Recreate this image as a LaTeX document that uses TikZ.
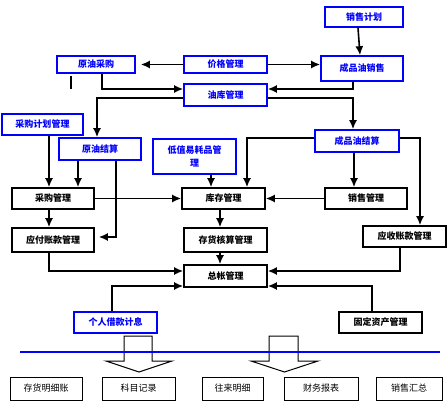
\documentclass[tikz,border=0pt]{standalone}
\usepackage{fontspec}
\newfontfamily\cjk{Noto Sans CJK SC}
\usetikzlibrary{arrows.meta}

\begin{document}
\begin{tikzpicture}[x=1pt, y=-1pt,
    box/.style={draw, rectangle, line width=1.6pt, inner sep=0pt,
      font=\cjk\bfseries\fontsize{9}{12.5}\selectfont},
    bluebox/.style={box, draw=blue, text=blue},
    blackbox/.style={box, draw=black},
    leafbox/.style={draw, rectangle, line width=1pt, inner sep=0pt,
      minimum height=23pt, font=\cjk\fontsize{9}{12}\selectfont},
    link/.style={line width=1.6pt, -{Latex[length=9pt,width=8pt]}}]
      \useasboundingbox (0,0) rectangle (447,401);

      % top row
      \node[bluebox, minimum width=78pt, minimum height=20pt] (plan) at (364,17) {销售计划};
      \node[bluebox, minimum width=78pt, minimum height=17pt] (crude) at (96,64.5) {原油采购};
      \node[bluebox, minimum width=83pt, minimum height=17pt] (price) at (225.5,64.5) {价格管理};
      \node[bluebox, minimum width=82pt, minimum height=25pt] (sale) at (362,68.5) {成品油销售};
      \node[bluebox, minimum width=83pt, minimum height=22pt] (depot) at (225.5,95) {油库管理};

      % settlement row
      \node[bluebox, minimum width=81pt, minimum height=21pt] (pplan) at (42.5,124.5) {采购计划管理};
      \node[bluebox, minimum width=82pt, minimum height=22pt] (csettle) at (100,149) {原油结算};
      \node[bluebox, minimum width=83pt, minimum height=35pt, align=center] (lowval) at (194.5,156.5) {低值易耗品管\\理};
      \node[bluebox, minimum width=84pt, minimum height=22pt] (psettle) at (357,141) {成品油结算};

      % management rows
      \node[blackbox, minimum width=82pt, minimum height=21pt] (purch) at (53,198.5) {采购管理};
      \node[blackbox, minimum width=83pt, minimum height=21pt] (stock) at (223.5,198.5) {库存管理};
      \node[blackbox, minimum width=82pt, minimum height=21pt] (sales) at (366,198.5) {销售管理};
      \node[blackbox, minimum width=82pt, minimum height=24pt] (payable) at (53,240) {应付账款管理};
      \node[blackbox, minimum width=83pt, minimum height=24pt] (costing) at (225.5,240) {存货核算管理};
      \node[blackbox, minimum width=83pt, minimum height=21pt] (receiv) at (404.5,236.5) {应收账款管理};
      \node[blackbox, minimum width=83pt, minimum height=22pt] (ledger) at (225.5,276) {总帐管理};
      \node[bluebox, minimum width=83pt, minimum height=21pt] (loan) at (115.5,322.5) {个人借款计息};
      \node[blackbox, minimum width=83pt, minimum height=21pt] (asset) at (380.5,322.5) {固定资产管理};

      % outputs
      \node[leafbox, minimum width=72pt] (detail) at (46,388.5) {存货明细账};
      \node[leafbox, minimum width=73pt] (record) at (138.5,388.5) {科目记录};
      \node[leafbox, minimum width=61pt] (account) at (232.5,388.5) {往来明细};
      \node[leafbox, minimum width=74pt] (report) at (321,388.5) {财务报表};
      \node[leafbox, minimum width=66pt] (summary) at (409,388.5) {销售汇总};

      \draw[link] ([xshift=-6pt]plan.south) -- ([xshift=-4pt]plan.south |- sale.north);
      \draw[link, shorten >=5pt] (price.west) -- (price.west -| crude.east);
      \draw[link] (price.east) -- (price.east -| sale.west);
      \draw[link] ([xshift=6pt]crude.south) |- ([yshift=6pt]depot.west);
      \draw[link] ([xshift=-9pt]sale.south) |- ([yshift=6pt]depot.east);
      \draw[link] ([yshift=-3pt]depot.west) -| ([xshift=-3pt]csettle.north);
      \draw[link] ([yshift=-3pt]depot.east) -| ([xshift=-4pt]psettle.north);
      \draw[line width=1.6pt] (71,76) -- (71,89);

      \draw[link] ([xshift=6.5pt]pplan.south) -- ([xshift=-4pt]purch.north);
      \draw[link] ([xshift=-22pt]csettle.south) -- ([xshift=25pt]purch.north);
      \draw[link, shorten >=4pt] ([xshift=16pt]csettle.south) |- ([yshift=3pt]payable.east);
      \draw[link] ([xshift=16.5pt]lowval.south) -- ([xshift=-12.5pt]stock.north);
      \draw[link] (purch) -- (stock);
      \draw[link] ([yshift=3pt]psettle.west) -| ([xshift=23.5pt]stock.north);
      \draw[link] ([xshift=-3pt]psettle.south) -- ([xshift=-12pt]sales.north);
      \draw[link] ([yshift=3pt]psettle.east) -| ([xshift=15.5pt]receiv.north);
      \draw[link] (sales) -- (stock);

      \draw[link] ([xshift=-4pt]purch.south) -- ([xshift=-4pt]payable.north);
      \draw[link] ([xshift=-3.5pt]stock.south) -- ([xshift=-5.5pt]costing.north);
      \draw[link] ([xshift=-5.5pt]costing.south) -- ([xshift=-5.5pt]ledger.north);
      \draw[link] ([xshift=-4pt]payable.south) |- ([yshift=5pt]ledger.west);
      \draw[link] ([xshift=-4.5pt]receiv.south) |- ([yshift=5pt]ledger.east);
      \draw[link] ([xshift=-3.5pt]loan.north) |- ([yshift=-10pt]ledger.west);
      \draw[link] ([xshift=-8.5pt]asset.north) |- ([yshift=-10pt]ledger.east);

      % hollow arrows and the rule
      \draw[line width=1pt, fill=white] (124,336) -- (152,336) -- (152,361) -- (172,361)
        -- (139,372) -- (106,361) -- (124,361) -- cycle;
      \draw[line width=1pt, fill=white] (269,336) -- (298,336) -- (298,361) -- (318,361)
        -- (284.5,372) -- (251,361) -- (269,361) -- cycle;
      \draw[blue, line width=1.2pt] (20,352) -- (440,352);
    \end{tikzpicture}
\end{document}
